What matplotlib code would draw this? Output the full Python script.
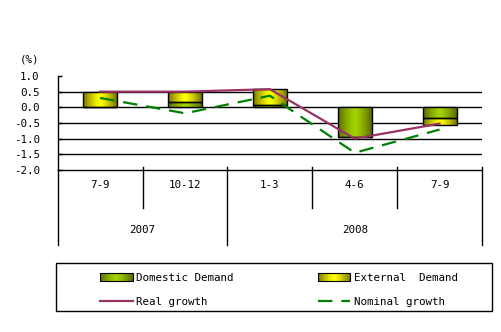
import numpy as np
import matplotlib
matplotlib.use("Agg")
import matplotlib.pyplot as plt
from matplotlib.patches import Rectangle, Patch
from matplotlib.lines import Line2D
from matplotlib.colors import LinearSegmentedColormap
from matplotlib.legend_handler import HandlerBase
import matplotlib.transforms as mtransforms

# contributions to growth (%), by quarter
quarters = ["7-9", "10-12", "1-3", "4-6", "7-9"]
years = ["2007", "2008"]
year_spans = [(0, 2), (2, 5)]
domestic = [0.0, 0.18, 0.07, -0.95, -0.35]
external = [0.5, 0.31, 0.51, 0.0, -0.2]
real_growth = [0.5, 0.5, 0.58, -1.0, -0.52]
nominal_growth = [0.3, -0.19, 0.37, -1.45, -0.71]

W, H = 502, 332
plt.rcParams["font.family"] = ["DejaVu Sans Mono"]
plt.rcParams["font.size"] = 7.8

DOM_EDGE, DOM_MID = "#5a6a00", "#a3d400"
EXT_EDGE, EXT_MID = "#747400", "#ffff00"


def px(x, y):
    return x / W, 1 - y / H


def grad_cmap(edge, mid):
    return LinearSegmentedColormap.from_list("g", [mid, edge])


def fill_gradient(ax, bars, edge, mid):
    cmap = grad_cmap(edge, mid)
    grad = np.abs(np.linspace(-1, 1, 64))[None, :] ** 1.3
    for b in bars:
        x0, y0 = b.get_x(), b.get_y()
        w, h = b.get_width(), b.get_height()
        if h == 0:
            continue
        im = ax.imshow(grad, cmap=cmap, aspect="auto", interpolation="bilinear",
                       extent=(x0, x0 + w, min(y0, y0 + h), max(y0, y0 + h)),
                       zorder=2)
        im.set_clip_path(b)


class GradientHandler(HandlerBase):
    def __init__(self, edge, mid):
        super().__init__()
        self.cmap = grad_cmap(edge, mid)

    def create_artists(self, legend, orig_handle, xdescent, ydescent,
                       width, height, fontsize, trans):
        n = 20
        arts = []
        for i in range(n):
            t = abs((i + 0.5) / n * 2 - 1) ** 1.3
            r = Rectangle((-xdescent + width * i / n, -ydescent), width / n + 0.1,
                          height, facecolor=self.cmap(t), edgecolor="none",
                          transform=trans)
            arts.append(r)
        arts.append(Rectangle((-xdescent, -ydescent), width, height,
                              facecolor="none", edgecolor="black", lw=0.8,
                              transform=trans))
        return arts


fig = plt.figure(figsize=(W / 100, H / 100), dpi=100)
left, top = px(57.7, 76)
right, bottom = px(482, 170)
ax = fig.add_axes([left, bottom, right - left, top - bottom])

x = np.arange(len(quarters))
for yv in [0.5, 0.0, -0.5, -1.0, -1.5]:
    ax.axhline(yv, color="black", lw=1, zorder=1)

dom_bars = ax.bar(x, domestic, width=0.4, facecolor="none", edgecolor="black",
                  lw=1, zorder=3)
ext_bars = ax.bar(x, external, width=0.4, bottom=domestic, facecolor="none",
                  edgecolor="black", lw=1, zorder=3)
fill_gradient(ax, dom_bars, DOM_EDGE, DOM_MID)
fill_gradient(ax, ext_bars, EXT_EDGE, EXT_MID)

ax.plot(x, real_growth, color="#993366", lw=1.6, zorder=4)
ax.plot(x, nominal_growth, color="#008000", lw=1.6, dashes=(6.5, 4), zorder=4)

ax.set_xlim(-0.5, len(quarters) - 0.5)
ax.set_ylim(-2.0, 1.0)
ax.set_yticks(np.arange(-2.0, 1.01, 0.5))
ax.set_yticklabels([f"{v:.1f}" for v in np.arange(-2.0, 1.01, 0.5)])
ax.tick_params(axis="y", direction="in", length=3, pad=13, width=1)
ax.set_xticks([])
for s in ["top", "right"]:
    ax.spines[s].set_visible(False)
ax.spines["left"].set_linewidth(1)
ax.spines["bottom"].set_linewidth(1)

# two-level category axis below the plot
tr = mtransforms.blended_transform_factory(ax.transData, ax.transAxes)
quarter_bottom = -(207.7 - 170) / 94
year_bottom = -(245 - 170) / 94
above = (170 - 166.7) / 94
year_edges = sorted({e for span in year_spans for e in span})
for b in range(len(quarters) + 1):
    xb = b - 0.5
    lo = year_bottom if b in year_edges else quarter_bottom
    hi = 0 if b == 0 else above
    ax.plot([xb, xb], [lo, hi], color="black", lw=1, transform=tr, clip_on=False)
for i, q in enumerate(quarters):
    ax.text(i, -15 / 94, q, transform=tr, ha="center", va="center")
for yr, (a, b) in zip(years, year_spans):
    ax.text((a + b - 1) / 2, -60 / 94, yr, transform=tr, ha="center", va="center")

fig.text(*px(30, 60), "(%)", ha="center", va="center")

# legend, two columns inside one frame
h_dom = Patch(label="Domestic Demand")
h_ext = Patch(label="External  Demand")
h_real = Line2D([], [], color="#993366", lw=1.6, label="Real growth")
h_nom = Line2D([], [], color="#008000", lw=1.6, dashes=(6.5, 4), label="Nominal growth")
hmap = {h_dom: GradientHandler(DOM_EDGE, DOM_MID),
        h_ext: GradientHandler(EXT_EDGE, EXT_MID)}
common = dict(loc="center left", frameon=False, borderpad=0, borderaxespad=0,
              handlelength=3.0, handletextpad=0.35, labelspacing=1.3,
              handler_map=hmap, bbox_transform=fig.transFigure)
leg1 = fig.legend([h_dom, h_real], ["Domestic Demand", "Real growth"],
                  bbox_to_anchor=px(100, 289.7), **common)
leg2 = fig.legend([h_ext, h_nom], ["External  Demand", "Nominal growth"],
                  bbox_to_anchor=px(318, 289.7), **common)
fx0, fy1 = px(56, 310.7)
fx1, fy0 = px(491.7, 263.3)
fig.patches.append(Rectangle((fx0, fy1), fx1 - fx0, fy0 - fy1, transform=fig.transFigure,
                             facecolor="none", edgecolor="black", lw=1))

fig.savefig("out.png", dpi=100)
